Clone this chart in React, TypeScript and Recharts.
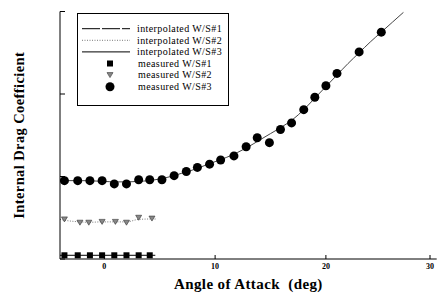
import React from 'react';
import { ComposedChart, Line, Scatter, XAxis, YAxis, Legend, Label } from 'recharts';

// measured points (angle of attack in deg, internal drag coefficient)
const aoaMeas1 = [-3.6, -2.4, -1.3, -0.2, 0.9, 2.0, 3.1, 4.1];
const cdMeas1 = [0.045, 0.045, 0.045, 0.045, 0.045, 0.045, 0.045, 0.045];
const aoaMeas2 = [-3.6, -2.2, -1.4, -0.2, 1.0, 2.0, 3.1, 4.3];
const cdMeas2 = [0.48, 0.44, 0.44, 0.45, 0.45, 0.44, 0.5, 0.49];
const aoaMeas3 = [-3.6, -2.4, -1.3, -0.2, 0.9, 2.0, 3.1, 4.1, 5.2, 6.3, 7.4, 8.4, 9.5, 10.5, 11.7, 12.8, 13.8, 14.9, 15.9, 16.9, 18.0, 19.0, 20.0, 21.0, 23.0, 25.0];
const cdMeas3 = [0.95, 0.95, 0.95, 0.95, 0.91, 0.91, 0.96, 0.96, 0.96, 1.01, 1.06, 1.11, 1.15, 1.2, 1.25, 1.36, 1.47, 1.41, 1.57, 1.65, 1.81, 1.96, 2.1, 2.25, 2.51, 2.75];

// interpolated curves
const aoaFit1 = [-4, 0, 4.6];
const cdFit1 = [0.045, 0.045, 0.045];
const aoaFit2 = [-4, -3.6, -2.2, -1.4, -0.2, 1.0, 2.0, 3.1, 4.3, 4.7];
const cdFit2 = [0.48, 0.47, 0.45, 0.445, 0.45, 0.45, 0.45, 0.48, 0.485, 0.485];
const aoaFit3 = [-4, -2, 0, 1, 2, 3, 4, 5, 6, 7, 8, 9, 10, 11, 12, 13, 14, 15, 16, 17, 18, 19, 20, 21, 22, 23, 24, 25, 26, 27];
const cdFit3 = [0.95, 0.95, 0.94, 0.935, 0.935, 0.94, 0.95, 0.97, 1.0, 1.04, 1.08, 1.13, 1.18, 1.23, 1.29, 1.36, 1.44, 1.52, 1.6, 1.69, 1.81, 1.95, 2.09, 2.23, 2.37, 2.5, 2.63, 2.75, 2.87, 2.99];

const xTicks = [0, 10, 20, 30];
const yTicks = [0, 1, 2, 3];

const zip = (xs: number[], ys: number[]) => xs.map((x, i) => ({ x, y: ys[i] }));

const serif = '"Liberation Serif", "DejaVu Serif", serif';

function XTick({ x, y, payload }: any) {
  return (
    <g>
      <line x1={x} x2={x} y1={y} y2={y - 4} stroke="#000" />
      <text x={x} y={y + 10} textAnchor="middle" fontSize={8} fontWeight="bold" fontFamily={serif} fill="#000">
        {payload.value}
      </text>
    </g>
  );
}

function YTick({ x, y }: any) {
  return <line x1={x} x2={x + 5} y1={y} y2={y} stroke="#000" />;
}

const circle = (p: any) => <circle cx={p.cx} cy={p.cy} r={4.5} fill="#000" />;
const square = (p: any) => <rect x={p.cx - 3} y={p.cy - 3} width={6} height={6} fill="#000" />;
const triangle = (p: any) => (
  <path d={`M${p.cx - 3},${p.cy - 2.5} L${p.cx + 3},${p.cy - 2.5} L${p.cx},${p.cy + 2.5} Z`} fill="#888" stroke="#333" strokeWidth={0.6} />
);

const legendRows = [
  { label: 'interpolated W/S#1', kind: 'line', dash: '18 2' },
  { label: 'interpolated W/S#2', kind: 'line', dash: '1 1.5' },
  { label: 'interpolated W/S#3', kind: 'line', dash: undefined },
  { label: 'measured W/S#1', kind: 'square' },
  { label: 'measured W/S#2', kind: 'triangle' },
  { label: 'measured W/S#3', kind: 'circle' },
];

function LegendBox() {
  return (
    <svg width={152} height={93} style={{ display: 'block' }}>
      <rect x={0.5} y={0.5} width={151} height={92} fill="#fff" stroke="#000" />
      {legendRows.map((r, i) => {
        const cy = 15.7 + i * 11.6;
        let mark: React.ReactNode = null;
        if (r.kind === 'line') {
          mark = <line x1={5} x2={53} y1={cy} y2={cy} stroke={i === 1 ? '#555' : '#000'} strokeWidth={i === 1 ? 0.8 : 1} strokeDasharray={r.dash} />;
        } else if (r.kind === 'square') {
          mark = square({ cx: 33, cy });
        } else if (r.kind === 'triangle') {
          mark = triangle({ cx: 33, cy });
        } else {
          mark = circle({ cx: 33, cy });
        }
        return (
          <g key={r.label}>
            {mark}
            <text x={r.kind === 'line' ? 60 : 61} y={cy + 3.3} fontSize={10} fontFamily={serif} letterSpacing={0.4} fill="#000">
              {r.label}
            </text>
          </g>
        );
      })}
    </svg>
  );
}

export default function App() {
  return (
    <div style={{ position: 'absolute', left: 0, top: 0, width: 438, height: 294, background: '#fff' }}>
      <ComposedChart width={438} height={294} margin={{ top: 11.5, right: 1.3, bottom: 0, left: 59 }}>
        <XAxis
          type="number"
          dataKey="x"
          domain={[-4, 30]}
          ticks={xTicks}
          height={35}
          tickSize={0}
          tickMargin={0}
          tick={<XTick />}
          axisLine={{ stroke: '#000' }}
          allowDataOverflow
        >
          <Label
            value={'Angle of Attack\u00a0\u00a0(deg)'}
            position="insideBottom"
            offset={5}
            style={{ fontFamily: serif, fontSize: 15, fontWeight: 'bold', fill: '#000', letterSpacing: 0.4 }}
          />
        </XAxis>
        <YAxis
          type="number"
          dataKey="y"
          domain={[0, 3]}
          ticks={yTicks}
          width={1}
          tickSize={0}
          tickMargin={0}
          tick={<YTick />}
          axisLine={{ stroke: '#000' }}
          allowDataOverflow
        >
          <Label
            content={({ viewBox }: any) => (
              <text
                x={24}
                y={viewBox.y + viewBox.height / 2}
                transform={`rotate(-90 24 ${viewBox.y + viewBox.height / 2})`}
                textAnchor="middle"
                fontFamily={serif}
                fontSize={14.5}
                fontWeight="bold"
                letterSpacing={0.4}
                fill="#000"
              >
                Internal Drag Coefficient
              </text>
            )}
          />
        </YAxis>
        <Legend
          layout="vertical"
          align="center"
          verticalAlign="middle"
          wrapperStyle={{ left: 77, top: 13, width: 152, height: 93 }}
          content={() => <LegendBox />}
        />
        <Line data={zip(aoaFit1, cdFit1)} dataKey="y" type="monotone" stroke="#000" strokeWidth={1} dot={false} isAnimationActive={false} legendType="none" />
        <Line data={zip(aoaFit2, cdFit2)} dataKey="y" type="monotone" stroke="#555" strokeWidth={0.8} strokeDasharray="1 1.5" dot={false} isAnimationActive={false} legendType="none" />
        <Line data={zip(aoaFit3, cdFit3)} dataKey="y" type="monotone" stroke="#444" strokeWidth={1} dot={false} isAnimationActive={false} legendType="none" />
        <Scatter data={zip(aoaMeas1, cdMeas1)} dataKey="y" shape={square} isAnimationActive={false} legendType="none" />
        <Scatter data={zip(aoaMeas2, cdMeas2)} dataKey="y" shape={triangle} isAnimationActive={false} legendType="none" />
        <Scatter data={zip(aoaMeas3, cdMeas3)} dataKey="y" shape={circle} isAnimationActive={false} legendType="none" />
      </ComposedChart>
    </div>
  );
}
